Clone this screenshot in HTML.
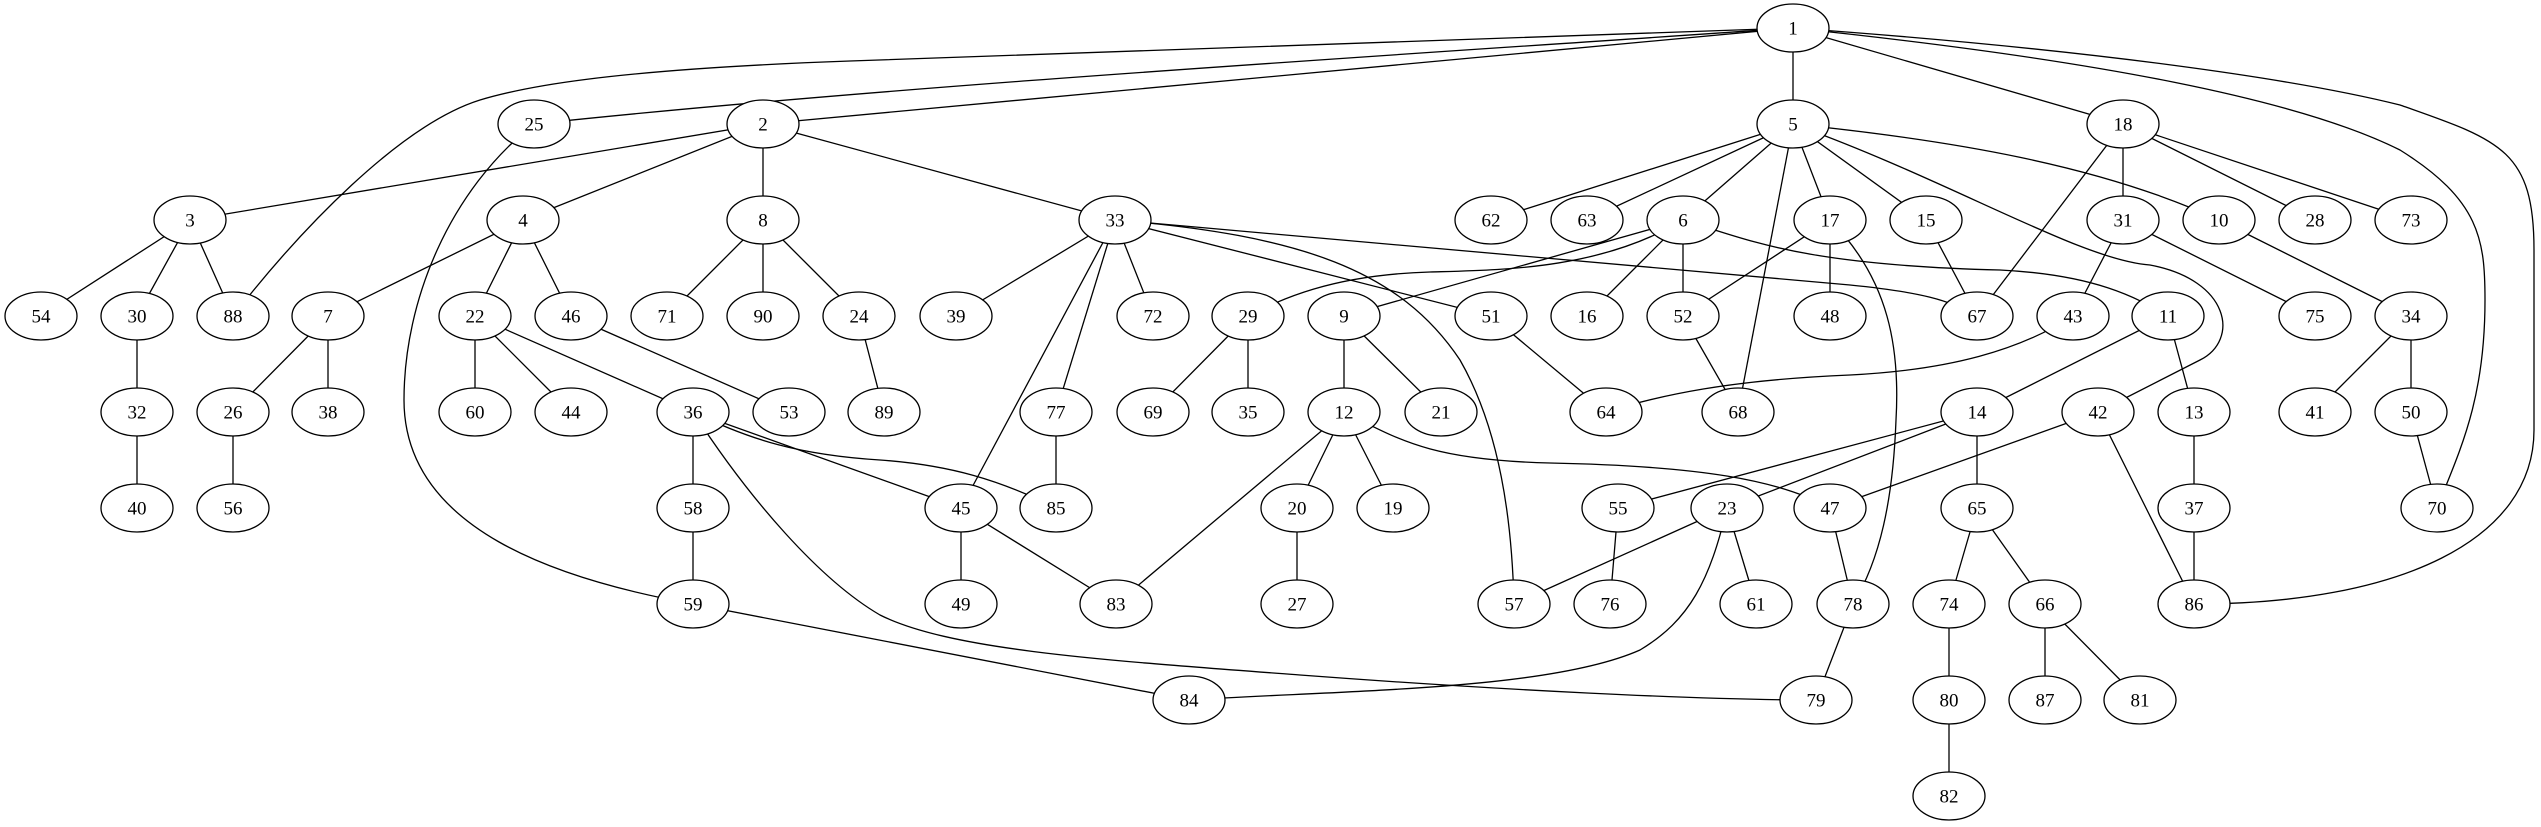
<!DOCTYPE html>
<html><head><meta charset="utf-8"><style>
html,body{margin:0;padding:0;background:#fff;}
svg{display:block;}
text{font-family:"Liberation Serif",serif;font-size:19px;text-anchor:middle;dominant-baseline:central;}
</style></head><body>
<svg width="2541" height="827" viewBox="0 0 2541 827" xmlns="http://www.w3.org/2000/svg">
<g id="edges" fill="none" stroke="#000" stroke-width="1.3"></g>
<g id="nodes"></g>
<script>
var N={1:[1793,28],25:[534,124],2:[763,124],5:[1793,124],18:[2123,124],
3:[190,220],4:[523,220],8:[763,220],33:[1115,220],62:[1491,220],63:[1587,220],6:[1683,220],17:[1830,220],15:[1926,220],31:[2123,220],10:[2219,220],28:[2315,220],73:[2411,220],
54:[41,316],30:[137,316],88:[233,316],7:[328,316],22:[475,316],46:[571,316],71:[667,316],90:[763,316],24:[859,316],39:[956,316],72:[1153,316],29:[1248,316],9:[1344,316],51:[1491,316],16:[1587,316],52:[1683,316],48:[1830,316],67:[1977,316],43:[2073,316],11:[2168,316],75:[2315,316],34:[2411,316],
32:[137,412],26:[233,412],38:[328,412],60:[475,412],44:[571,412],36:[693,412],53:[789,412],89:[884,412],77:[1056,412],69:[1153,412],35:[1248,412],12:[1344,412],21:[1441,412],64:[1606,412],68:[1738,412],14:[1977,412],42:[2098,412],13:[2194,412],41:[2315,412],50:[2411,412],
40:[137,508],56:[233,508],58:[693,508],45:[961,508],85:[1056,508],20:[1297,508],19:[1393,508],55:[1618,508],23:[1727,508],47:[1830,508],65:[1977,508],37:[2194,508],70:[2437,508],
59:[693,604],49:[961,604],83:[1116,604],27:[1297,604],57:[1514,604],76:[1610,604],61:[1756,604],78:[1853,604],74:[1949,604],66:[2045,604],86:[2194,604],
84:[1189,700],79:[1816,700],80:[1949,700],87:[2045,700],81:[2140,700],82:[1949,796]};
var E="1-2 1-5 1-18 2-3 2-4 2-8 2-33 3-54 3-30 3-88 4-7 4-22 4-46 8-71 8-90 8-24 33-39 33-72 33-77 33-45 33-51 5-62 5-63 5-6 5-17 5-15 5-68 18-31 18-28 18-73 18-67 6-9 6-16 6-52 17-52 17-48 15-67 31-43 31-75 10-34 30-32 7-26 7-38 22-60 22-44 22-36 46-53 24-89 29-69 29-35 9-12 9-21 51-64 52-68 11-14 11-13 34-41 34-50 32-40 26-56 36-58 36-45 77-85 12-20 12-19 12-83 14-55 14-23 14-65 42-47 42-86 13-37 50-70 58-59 45-49 45-83 20-27 55-76 23-57 23-61 47-78 65-74 65-66 37-86 59-84 78-79 74-80 66-87 66-81 80-82".split(" ");
var P=["M1793,28 L850,61 C600,70 520,88 480,100 C400,125 300,230 233,316",
"M1793,28 C1400,55 900,85 534,124",
"M1115,220 C1400,245 1700,270 1850,285 C1920,292 1950,300 1977,316",
"M1793,124 C1950,140 2100,165 2219,220",
"M534,124 C450,190 404,300 404,400 C404,530 560,580 693,604",
"M1793,28 C2100,60 2300,100 2400,150 C2480,200 2485,240 2485,300 C2485,400 2460,450 2437,508",
"M1793,28 C2100,50 2300,80 2400,105 C2500,140 2534,150 2534,250 L2534,430 C2534,540 2400,604 2194,604",
"M1115,220 C1300,235 1400,270 1460,360 C1500,430 1512,520 1514,604",
"M1683,220 C1600,270 1500,270 1430,272 C1330,275 1280,300 1248,316",
"M1683,220 C1750,240 1800,265 2000,270 C2100,275 2140,300 2168,316",
"M1793,124 C1950,180 2080,260 2150,265 C2230,280 2240,340 2200,360 L2098,412",
"M1830,220 C1890,280 1900,350 1896,420 C1893,500 1880,560 1853,604",
"M693,412 C750,500 820,580 880,615 C950,650 1100,660 1300,675 C1500,690 1700,700 1816,700",
"M1727,508 C1710,580 1690,620 1640,650 C1550,690 1350,690 1189,700",
"M1344,412 C1400,440 1430,460 1550,463 C1700,466 1780,480 1830,508",
"M693,412 C750,440 800,455 880,460 C950,465 1000,480 1056,508",
"M2073,316 C2020,350 1950,370 1850,375 C1730,380 1660,395 1606,412"];
var ns="http://www.w3.org/2000/svg",ge=document.getElementById("edges"),gn=document.getElementById("nodes");
E.forEach(function(e){var a=e.split("-"),p=N[a[0]],q=N[a[1]];var l=document.createElementNS(ns,"line");l.setAttribute("x1",p[0]);l.setAttribute("y1",p[1]);l.setAttribute("x2",q[0]);l.setAttribute("y2",q[1]);ge.appendChild(l);});
P.forEach(function(d){var l=document.createElementNS(ns,"path");l.setAttribute("d",d);ge.appendChild(l);});
for(var k in N){var c=N[k];var el=document.createElementNS(ns,"ellipse");el.setAttribute("cx",c[0]);el.setAttribute("cy",c[1]);el.setAttribute("rx",36);el.setAttribute("ry",24);el.setAttribute("fill","#fff");el.setAttribute("stroke","#000");el.setAttribute("stroke-width","1.3");gn.appendChild(el);
var t=document.createElementNS(ns,"text");t.setAttribute("x",c[0]);t.setAttribute("y",c[1]+1);t.textContent=k;gn.appendChild(t);}
</script>
</svg>
</body></html>
